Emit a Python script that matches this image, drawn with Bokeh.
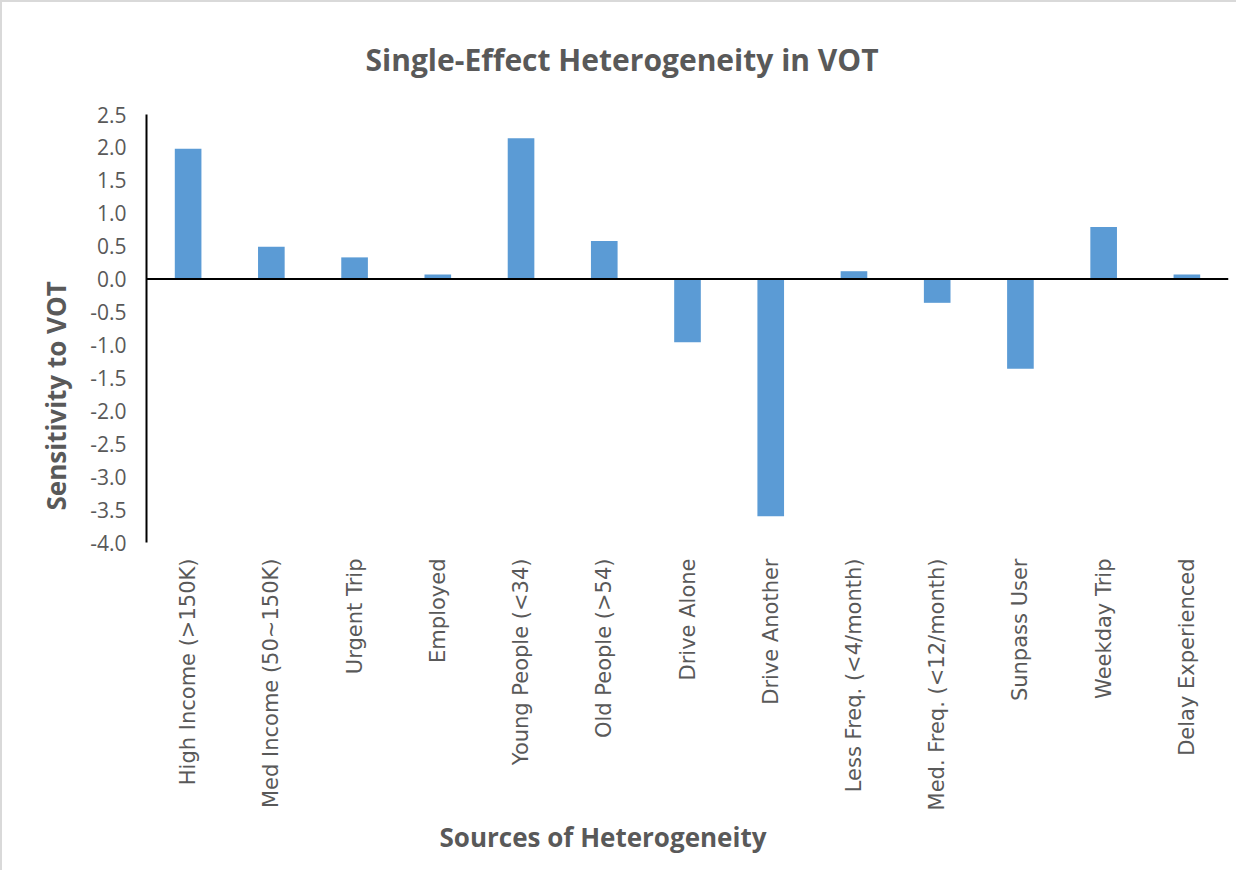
import math
from bokeh.plotting import figure
from bokeh.models import (ColumnDataSource, FactorRange, FixedTicker, NumeralTickFormatter,
                          Span, Title)
from bokeh.embed import file_html
from bokeh.resources import INLINE

categories = ["High Income (>150K)", "Med Income (50~150K)", "Urgent Trip", "Employed",
              "Young People (<34)", "Old People (>54)", "Drive Alone", "Drive Another",
              "Less Freq. (<4/month)", "Med. Freq. (<12/month)", "Sunpass User",
              "Weekday Trip", "Delay Experienced"]
values = [1.98, 0.49, 0.33, 0.07, 2.14, 0.58, -0.96, -3.60, 0.12, -0.36, -1.36, 0.79, 0.07]
y_ticks = [-4.0, -3.5, -3.0, -2.5, -2.0, -1.5, -1.0, -0.5, 0.0, 0.5, 1.0, 1.5, 2.0, 2.5]

title_text = "Single-Effect Heterogeneity in VOT"
x_title = "Sources of Heterogeneity"
y_title = "Sensitivity to VOT"

GREY = "#595959"
BAR = "#5B9BD5"

src = ColumnDataSource(dict(cat=categories, val=values))

p = figure(width=1236, height=870, x_range=FactorRange(*categories, range_padding=0),
           y_range=(-4.0, 2.5), output_backend="svg", toolbar_location=None,
           min_border_left=144, min_border_right=10, min_border_top=112, min_border_bottom=330)
p.styles = {"border-left": "2px solid #D9D9D9", "border-top": "2px solid #D9D9D9"}
p.outline_line_color = None
p.xgrid.grid_line_color = None
p.ygrid.grid_line_color = None

p.vbar(x="cat", top="val", bottom=0, width=0.32, source=src, color=BAR, line_color=None)

p.add_layout(Span(location=0, dimension="width", line_color="black", line_width=2))

# y axis
p.yaxis.ticker = FixedTicker(ticks=y_ticks)
p.yaxis.formatter = NumeralTickFormatter(format="0.0")
p.yaxis.axis_line_color = "black"
p.yaxis.axis_line_width = 2
p.yaxis.major_tick_line_color = None
p.yaxis.minor_tick_line_color = None
p.yaxis.major_tick_out = 0
p.yaxis.major_tick_in = 0
p.yaxis.major_label_standoff = 20
p.yaxis.major_label_text_font = "Open Sans"
p.yaxis.major_label_text_font_size = "21px"
p.yaxis.major_label_text_color = GREY

# x axis
p.xaxis.axis_line_color = None
p.xaxis.major_tick_line_color = None
p.xaxis.minor_tick_line_color = None
p.xaxis.major_tick_out = 0
p.xaxis.major_tick_in = 0
p.xaxis.major_label_orientation = math.pi / 2
p.xaxis.major_label_standoff = 16
p.xaxis.major_label_text_font = "DejaVu Sans"
p.xaxis.major_label_text_font_size = "21px"
p.xaxis.major_label_text_color = GREY

# chart title
p.title.text = title_text
p.title.align = "left"
p.title.vertical_align = "top"
p.title.offset = 219
p.title.standoff = 66
p.title.text_font = "Open Sans"
p.title.text_font_style = "bold"
p.title.text_font_size = "30px"
p.title.text_color = GREY

# axis titles
p.add_layout(Title(text=x_title, align="left", offset=293, standoff=6,
                   text_font="Open Sans", text_font_style="bold", text_font_size="26px",
                   text_color=GREY), "below")
p.add_layout(Title(text=y_title, align="left", offset=32, standoff=27,
                   text_font="Open Sans", text_font_style="bold", text_font_size="26px",
                   text_color=GREY), "left")

open("out.html", "w").write(file_html(p, INLINE))
